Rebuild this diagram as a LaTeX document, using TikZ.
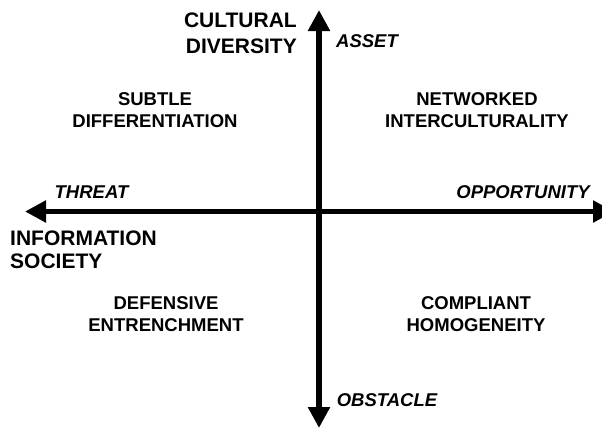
\documentclass[tikz,border=0pt]{standalone}
\usepackage{fontspec}
\setmainfont{Liberation Sans}
\usetikzlibrary{positioning,arrows.meta}
\tikzset{%
  axis/.style = {{Triangle[length=21pt,width=21pt]}-{Triangle[length=21pt,width=21pt]},
        line width=5.5pt},
  quad/.style = {align=center,inner sep=0pt,anchor=base,
        font=\bfseries\fontsize{18.5}{22}\selectfont},
  pole/.style = {inner sep=0pt,anchor=base,
        font=\bfseries\itshape\fontsize{18.5}{22}\selectfont},
  dim/.style = {inner sep=0pt,font=\bfseries\fontsize{21}{25}\selectfont}
}

\begin{document}
\begin{tikzpicture}[x=1pt,y=-1pt]
    \useasboundingbox[fill=white] (0,0) rectangle (602,429);
    % ends of the two axes
    \coordinate (w) at (25,211.5);
    \coordinate (e) at (614,211.5);
    \coordinate (n) at (319,10);
    \coordinate (s) at (319,428);

    \draw[axis] (w) -- (e);
    \draw[axis] (n) -- (s);

    % axis names (base = last line)
    \node[dim,anchor=base east,align=right] (cd) at (297,53) {CULTURAL\\[1pt]DIVERSITY};
    \node[dim,anchor=base west,align=left] (is) at (10,268) {INFORMATION\\[-2pt]SOCIETY};

    % poles
    \node[pole] (asset) at (367,47) {ASSET};
    \node[pole] (obst) at (387,406) {OBSTACLE};
    \node[pole] (threat) at (91.5,198) {THREAT};
    \node[pole] (opp) at (523,198) {OPPORTUNITY};

    % quadrants
    \node[quad] (nw) at (155,127) {SUBTLE\\DIFFERENTIATION};
    \node[quad] (ne) at (477,127) {NETWORKED\\INTERCULTURALITY};
    \node[quad] (sw) at (166,331) {DEFENSIVE\\ENTRENCHMENT};
    \node[quad] (se) at (476,331) {COMPLIANT\\HOMOGENEITY};
\end{tikzpicture}
\end{document}
